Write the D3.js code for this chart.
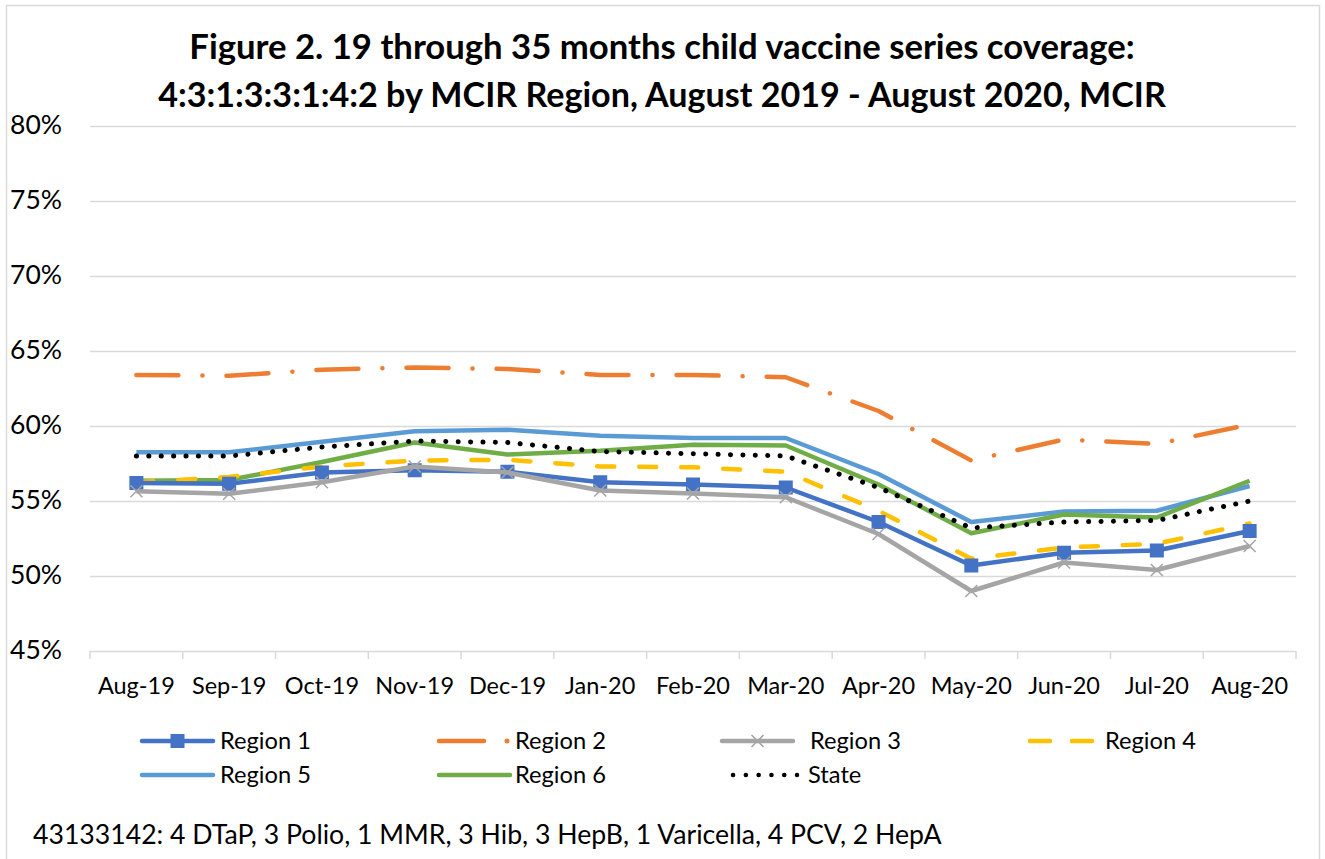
<!DOCTYPE html>
<html><head><meta charset="utf-8">
<script src="https://cdn.jsdelivr.net/npm/d3@7"></script>
<style>body{margin:0;background:#fff}svg{display:block}text{font-family:Lato,"Open Sans",sans-serif;fill:#000}</style>
</head><body><svg id="c" width="1325" height="859"></svg>
<script>
const months = ["Aug-19","Sep-19","Oct-19","Nov-19","Dec-19","Jan-20","Feb-20","Mar-20","Apr-20","May-20","Jun-20","Jul-20","Aug-20"];
const region1 = [56.2,56.15,56.9,57.05,56.95,56.25,56.1,55.9,53.6,50.7,51.55,51.7,53.0];
const region2 = [63.4,63.35,63.75,63.9,63.8,63.4,63.4,63.25,61.0,57.7,59.1,58.8,60.1];
const region3 = [55.65,55.48,56.25,57.3,56.9,55.7,55.5,55.25,52.8,49.0,50.9,50.4,52.0];
const region4 = [56.25,56.6,57.3,57.7,57.75,57.3,57.25,56.95,54.35,51.15,51.9,52.15,53.5];
const region5 = [58.25,58.25,58.95,59.65,59.75,59.35,59.2,59.2,56.8,53.6,54.3,54.35,56.0];
const region6 = [56.35,56.4,57.6,58.9,58.1,58.35,58.75,58.7,56.1,52.85,54.1,53.9,56.35];
const state   = [58.0,58.0,58.6,59.0,58.9,58.3,58.15,58.0,55.9,53.2,53.6,53.7,55.0];
const yTicks = [45,50,55,60,65,70,75,80];
const titleLines = ["Figure 2. 19 through 35 months child vaccine series coverage:","4:3:1:3:3:1:4:2 by MCIR Region, August 2019 - August 2020, MCIR"];
const footnote = "43133142: 4 DTaP, 3 Polio, 1 MMR, 3 Hib, 3 HepB, 1 Varicella, 4 PCV, 2 HepA";

const series = [
  {name:"Region 1", values:region1, color:"#4472C4", dash:null, marker:"square"},
  {name:"Region 2", values:region2, color:"#ED7D31", dash:"42 24 0.1 24", marker:null},
  {name:"Region 3", values:region3, color:"#A5A5A5", dash:null, marker:"x"},
  {name:"Region 4", values:region4, color:"#FFC000", dash:"17 25", marker:null},
  {name:"Region 5", values:region5, color:"#5B9BD5", dash:null, marker:null},
  {name:"Region 6", values:region6, color:"#70AD47", dash:null, marker:null},
  {name:"State", values:state, color:"#000000", dash:"0.1 12.3", marker:null, width:5}
];
const drawOrder = [1,4,5,6,3,0,2];

const svg = d3.select("#c");
const m = {left:90,right:1296,top:126,bottom:651};

svg.append("rect").attr("x",6.5).attr("y",5.5).attr("width",1313).attr("height",880)
  .attr("fill","#fff").attr("stroke","#d9d9d9").attr("stroke-width",1.5);

const x = d3.scaleBand().domain(months).range([m.left,m.right]);
const y = d3.scaleLinear().domain([45,80]).range([m.bottom,m.top]);

function fit(sel, target){
  const n = sel.node(); const fs = parseFloat(sel.attr("font-size"));
  const w = n.getComputedTextLength();
  sel.attr("font-size", fs*target/w);
  return fs*target/w;
}

titleLines.forEach((t,i)=>{
  const tt = svg.append("text").attr("x",662).attr("y",[59,107][i]).attr("text-anchor","middle")
    .attr("font-weight","bold").attr("font-size",28).text(t);
  fit(tt,[946,1008][i]);
});

const g = svg.append("g");
g.selectAll("line.grid").data(yTicks).join("line")
  .attr("x1",m.left).attr("x2",m.right).attr("y1",d=>Math.round(y(d))+0.5).attr("y2",d=>Math.round(y(d))+0.5)
  .attr("stroke","#d9d9d9").attr("stroke-width",1.5);
const bounds = months.map(mm=>x(mm)).concat([m.right]);
g.selectAll("line.xt").data(bounds).join("line")
  .attr("x1",d=>d).attr("x2",d=>d).attr("y1",y(45)).attr("y2",y(45)+8)
  .attr("stroke","#d9d9d9").attr("stroke-width",1.5);

const ySample = svg.append("text").attr("font-size",22).text("80%");
const yfs = fit(ySample,52); ySample.remove();
svg.selectAll("text.yl").data(yTicks).join("text").attr("class","yl")
  .attr("x",62).attr("y",d=>y(d)+8).attr("text-anchor","end").attr("font-size",yfs)
  .text(d=>d+"%");

const xSample = svg.append("text").attr("font-size",20).text("Aug-19");
const xfs = fit(xSample,77); xSample.remove();
svg.selectAll("text.xl").data(months).join("text").attr("class","xl")
  .attr("x",d=>x(d)+x.bandwidth()/2).attr("y",694).attr("text-anchor","middle").attr("font-size",xfs)
  .text(d=>d);

const cx = d=>x(d)+x.bandwidth()/2;
const line = d3.line().x((v,i)=>cx(months[i])).y(v=>y(v));

function drawMarker(gg, type, px, py, color){
  if(type==="square"){
    gg.append("rect").attr("x",px-7).attr("y",py-7).attr("width",14).attr("height",14).attr("fill",color);
  } else if(type==="x"){
    gg.append("path").attr("d",`M${px-6},${py-6}L${px+6},${py+6}M${px-6},${py+6}L${px+6},${py-6}`)
      .attr("stroke",color).attr("stroke-width",1.6).attr("fill","none");
  }
}

drawOrder.forEach(i=>{
  const s = series[i];
  const gg = svg.append("g");
  gg.append("path").attr("d",line(s.values)).attr("fill","none").attr("stroke",s.color)
    .attr("stroke-width",s.width||4.5).attr("stroke-linejoin","round")
    .attr("stroke-linecap",s.dash?"round":"butt")
    .attr("stroke-dasharray",s.dash);
  if(s.marker){
    s.values.forEach((v,j)=>drawMarker(gg,s.marker,cx(months[j]),y(v),s.color));
  }
});

const legendPos = [
  {x:140,y:741,tx:220},{x:437,y:741,tx:515},{x:720,y:741,tx:810},{x:1028,y:741,tx:1105},
  {x:140,y:775,tx:220},{x:437,y:775,tx:515},{x:733,y:775,tx:808}
];
const lSample = svg.append("text").attr("font-size",20).text("Region 1");
const lfs = fit(lSample,91); lSample.remove();
series.forEach((s,i)=>{
  const p = legendPos[i];
  const gg = svg.append("g");
  const len = 75;
  if(s.name==="Region 2"){
    gg.append("line").attr("x1",p.x+2).attr("x2",p.x+47).attr("y1",p.y).attr("y2",p.y)
      .attr("stroke",s.color).attr("stroke-width",4.5).attr("stroke-linecap","round");
    gg.append("circle").attr("cx",p.x+70).attr("cy",p.y).attr("r",2.5).attr("fill",s.color);
  } else if(s.name==="Region 4"){
    gg.append("line").attr("x1",p.x+2).attr("x2",p.x+22).attr("y1",p.y).attr("y2",p.y)
      .attr("stroke",s.color).attr("stroke-width",4.5).attr("stroke-linecap","round");
    gg.append("line").attr("x1",p.x+44).attr("x2",p.x+64).attr("y1",p.y).attr("y2",p.y)
      .attr("stroke",s.color).attr("stroke-width",4.5).attr("stroke-linecap","round");
  } else if(s.name==="State"){
    gg.append("line").attr("x1",p.x).attr("x2",p.x+64).attr("y1",p.y).attr("y2",p.y)
      .attr("stroke",s.color).attr("stroke-width",4.5).attr("stroke-linecap","round")
      .attr("stroke-dasharray","0.1 12.7");
  } else {
    gg.append("line").attr("x1",p.x+2).attr("x2",p.x+len-2).attr("y1",p.y).attr("y2",p.y)
      .attr("stroke",s.color).attr("stroke-width",4.5).attr("stroke-linecap","round");
    if(s.marker) drawMarker(gg,s.marker,p.x+len/2,p.y,s.color);
  }
  svg.append("text").attr("x",p.tx).attr("y",p.y+8).attr("font-size",lfs).text(s.name);
});

const fn = svg.append("text").attr("x",33).attr("y",844).attr("font-size",20).text(footnote);
fit(fn,909);
</script></body></html>
